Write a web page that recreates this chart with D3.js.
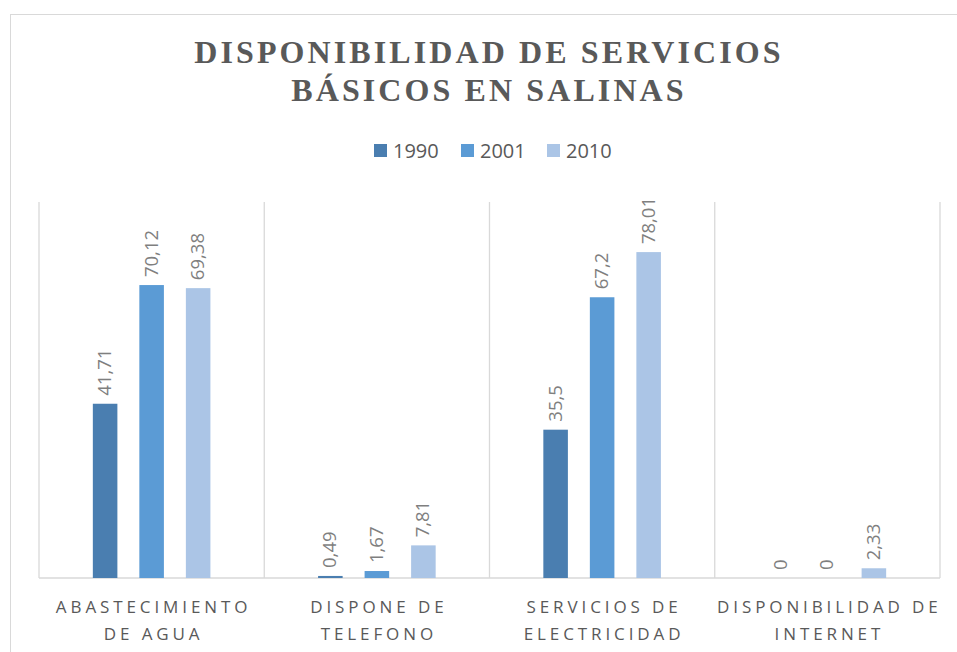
<!DOCTYPE html>
<html>
<head>
<meta charset="utf-8">
<script src="https://cdn.jsdelivr.net/npm/d3@7"></script>
<style>
  body { margin: 0; background: #fff; }
  svg { display: block; }
</style>
</head>
<body>
<div id="chart"></div>
<script>
// Data
const categories = [
    ["ABASTECIMIENTO", "DE AGUA"],
    ["DISPONE DE", "TELEFONO"],
    ["SERVICIOS DE", "ELECTRICIDAD"],
    ["DISPONIBILIDAD DE", "INTERNET"]
];
const seriesNames = ["1990", "2001", "2010"];
const values1990 = [41.71, 0.49, 35.5, 0];
const values2001 = [70.12, 1.67, 67.2, 0];
const values2010 = [69.38, 7.81, 78.01, 2.33];
const colors = ["#4a7eb0", "#5b9bd5", "#abc5e6"];

const width = 957, height = 652;
const margin = { left: 39, right: 17, top: 202, bottom: 74 };

const svg = d3.select("#chart").append("svg")
    .attr("width", width)
    .attr("height", height);

// Outer chart border
svg.append("rect")
    .attr("x", 10.5).attr("y", 14.5)
    .attr("width", 960).attr("height", 660)
    .attr("fill", "none")
    .attr("stroke", "#d9d9d9");

// Title
const title = svg.append("text")
    .attr("text-anchor", "middle")
    .attr("font-family", "'Liberation Serif', 'Times New Roman', serif")
    .attr("font-weight", "bold")
    .attr("font-size", 32)
    .attr("letter-spacing", 3.1)
    .attr("fill", "#595959");
title.append("tspan").attr("x", 489).attr("y", 63).text("DISPONIBILIDAD DE SERVICIOS");
title.append("tspan").attr("x", 489).attr("y", 101).text("BÁSICOS EN SALINAS");

// Scales
const x0 = d3.scaleBand()
    .domain(d3.range(categories.length))
    .range([margin.left, width - margin.right]);

const y = d3.scaleLinear()
    .domain([0, 90])
    .range([height - margin.bottom, margin.top]);

const step = x0.bandwidth() * 0.2065;
const barW = x0.bandwidth() * 0.109;
const x1 = d3.scalePoint()
    .domain(seriesNames)
    .range([-step, step]);

// Category separators (vertical gridlines)
const bounds = d3.range(categories.length + 1).map(i =>
    i < categories.length ? x0(i) : x0(i - 1) + x0.bandwidth());
svg.append("g").selectAll("line")
    .data(bounds)
    .join("line")
    .attr("x1", d => d).attr("x2", d => d)
    .attr("y1", y(90)).attr("y2", y(0))
    .attr("stroke", "#d9d9d9")
    .attr("stroke-width", 1.3);

// Baseline
svg.append("line")
    .attr("x1", margin.left).attr("x2", width - margin.right)
    .attr("y1", y(0)).attr("y2", y(0))
    .attr("stroke", "#d9d9d9")
    .attr("stroke-width", 1.3);

// Bars
const series = [values1990, values2001, values2010];
const rows = [];
series.forEach((vals, s) => {
    vals.forEach((v, i) => rows.push({ cat: i, s: s, name: seriesNames[s], value: v }));
});

const cx = d => x0(d.cat) + x0.bandwidth() / 2 + x1(d.name);

svg.append("g").selectAll("rect")
    .data(rows)
    .join("rect")
    .attr("x", d => cx(d) - barW / 2)
    .attr("y", d => y(d.value))
    .attr("width", barW)
    .attr("height", d => y(0) - y(d.value))
    .attr("fill", d => colors[d.s]);

// Value labels (rotated)
svg.append("g").selectAll("text")
    .data(rows)
    .join("text")
    .attr("transform", d => `translate(${cx(d) + 6},${y(d.value) - 8}) rotate(-90)`)
    .attr("font-family", "'Open Sans', 'Liberation Sans', sans-serif")
    .attr("font-size", 18.5)
    .attr("fill", "#7f7f7f")
    .text(d => String(d.value).replace(".", ","));

// Category labels
const catG = svg.append("g")
    .attr("font-family", "'Open Sans', 'Liberation Sans', sans-serif")
    .attr("font-size", 17)
    .attr("letter-spacing", 3.9)
    .attr("fill", "#595959")
    .attr("text-anchor", "middle");
categories.forEach((lines, i) => {
    const t = catG.append("text");
    lines.forEach((ln, j) => {
        t.append("tspan")
            .attr("x", x0(i) + x0.bandwidth() / 2 + 2)
            .attr("y", 613 + j * 27)
            .text(ln);
    });
});

// Legend
const legendX = [374, 461, 547];
const legend = svg.append("g").selectAll("g")
    .data(seriesNames)
    .join("g")
    .attr("transform", (d, i) => `translate(${legendX[i]},144)`);
legend.append("rect")
    .attr("width", 13).attr("height", 13)
    .attr("fill", (d, i) => colors[i]);
legend.append("text")
    .attr("x", 19).attr("y", 14)
    .attr("font-family", "'Open Sans', 'Liberation Sans', sans-serif")
    .attr("font-size", 20)
    .attr("fill", "#595959")
    .text(d => d);
</script>
</body>
</html>
